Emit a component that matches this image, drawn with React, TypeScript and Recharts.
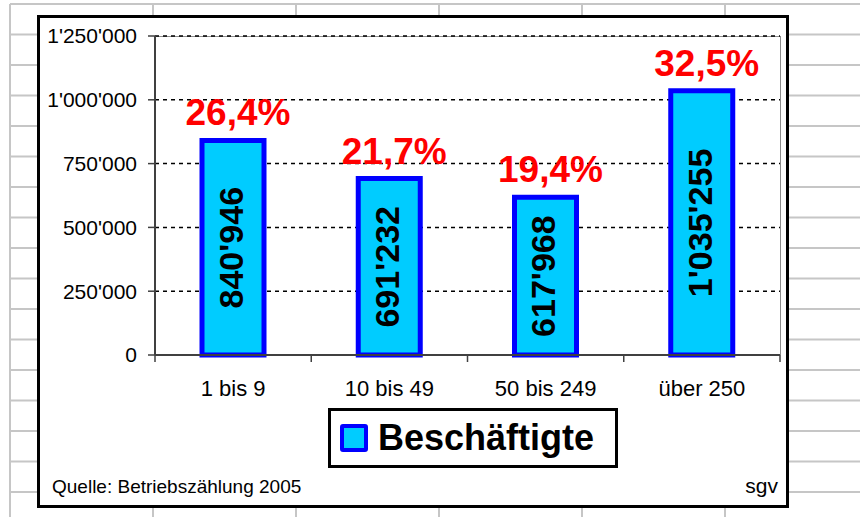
import React from 'react';
import { BarChart, Bar, XAxis, YAxis, CartesianGrid, LabelList } from 'recharts';

const categories = ['1 bis 9', '10 bis 49', '50 bis 249', 'über 250'];
const employees = [840946, 691232, 617968, 1035255];
const shares = [26.4, 21.7, 19.4, 32.5];
const yTicks = [0, 250000, 500000, 750000, 1000000, 1250000];

const FONT = '"Liberation Sans", Arial, sans-serif';
const PLOT_LEFT = 155;
const PLOT_TOP = 36;
const PLOT_RIGHT = 780;
const PLOT_BOTTOM = 355;
const BAND = (PLOT_RIGHT - PLOT_LEFT) / categories.length;

const data = categories.map((name, i) => ({ name, value: employees[i], share: shares[i] }));

const swiss = (v: number) => String(Math.round(v)).replace(/\B(?=(\d{3})+(?!\d))/g, "'");
const pct = (v: number) => v.toFixed(1).replace('.', ',') + '%';

// spreadsheet cells behind the chart
const SheetGrid = () => {
  const cols: number[] = [];
  for (let x = 10; x < 860; x += 143) cols.push(x);
  const rows: number[] = [];
  for (let y = 4; y < 517; y += 30.5) rows.push(y);
  return (
    <svg width={860} height={517} style={{ position: 'absolute', left: 0, top: 0 }}>
      {rows.map(y => <line key={'r' + y} x1={10} x2={860} y1={y} y2={y} stroke="#c6c6c6" strokeWidth={2} />)}
      {cols.map(x => <line key={'c' + x} x1={x} x2={x} y1={4} y2={517} stroke="#c6c6c6" strokeWidth={2} />)}
    </svg>
  );
};

const CategoryTick = (props: any) => {
  const { x, payload, index } = props;
  const left = x - BAND / 2;
  return (
    <g>
      <line x1={left} x2={left} y1={PLOT_BOTTOM} y2={PLOT_BOTTOM + 7} stroke="#404040" strokeWidth={1.5} />
      {index === categories.length - 1 && (
        <line x1={x + BAND / 2} x2={x + BAND / 2} y1={PLOT_BOTTOM} y2={PLOT_BOTTOM + 7} stroke="#404040" strokeWidth={1.5} />
      )}
      <text x={x} y={PLOT_BOTTOM + 41} textAnchor="middle" fill="#000" fontSize={22} fontFamily={FONT}>
        {payload.value}
      </text>
    </g>
  );
};

const ShareLabel = (props: any) => {
  const { x, y, width, value } = props;
  return (
    <text x={x + width / 2 + 5} y={y - 15} textAnchor="middle" fill="#FF0000" fontSize={37} fontWeight="bold" fontFamily={FONT}>
      {pct(value)}
    </text>
  );
};

const ValueLabel = (props: any) => {
  const { x, y, width, height, value } = props;
  const cx = x + width / 2 - 2;
  const cy = y + height / 2;
  return (
    <text x={cx} y={cy} transform={`rotate(-90 ${cx} ${cy})`} textAnchor="middle" dominantBaseline="central"
      fill="#000" fontSize={34} fontWeight="bold" fontFamily={FONT}>
      {swiss(value)}
    </text>
  );
};

export default function App() {
  return (
    <div style={{ position: 'absolute', left: 0, top: 0, width: 860, height: 517, background: '#fff', overflow: 'hidden', fontFamily: FONT }}>
      <SheetGrid />
      <div style={{ position: 'absolute', left: 37, top: 15, width: 752, height: 493, boxSizing: 'border-box', border: '3px solid #000', background: '#fff' }} />
      <div style={{ position: 'absolute', left: PLOT_LEFT, top: PLOT_TOP, width: PLOT_RIGHT - PLOT_LEFT + 1, height: PLOT_BOTTOM - PLOT_TOP, boxSizing: 'border-box', border: '1px solid #8c8c8c' }} />
      <div style={{ position: 'absolute', left: 0, top: 0 }}>
        <BarChart width={860} height={517} data={data} margin={{ top: PLOT_TOP, right: 860 - PLOT_RIGHT, bottom: 517 - PLOT_BOTTOM - 30, left: PLOT_LEFT - 100 }}>
          <CartesianGrid vertical={false} stroke="#000" strokeDasharray="4 4" strokeWidth={1.5} />
          <XAxis dataKey="name" height={30} interval={0} tickLine={false} tick={<CategoryTick />}
            axisLine={{ stroke: '#404040', strokeWidth: 2 }} />
          <YAxis width={100} domain={[0, 1250000]} ticks={yTicks} interval={0} tickFormatter={swiss}
            tick={{ fill: '#000', fontSize: 21, fontFamily: FONT }} tickSize={7} tickMargin={11}
            tickLine={{ stroke: '#404040', strokeWidth: 1.5 }} axisLine={{ stroke: '#404040', strokeWidth: 2 }} />
          <Bar dataKey="value" fill="#00CCFF" stroke="#0000FF" strokeWidth={5} barSize={62} isAnimationActive={false}>
            <LabelList dataKey="value" content={<ValueLabel />} />
            <LabelList dataKey="share" content={<ShareLabel />} />
          </Bar>
        </BarChart>
      </div>
      <div style={{ position: 'absolute', left: 328, top: 408, width: 290, height: 60, boxSizing: 'border-box', border: '3px solid #000', background: '#fff', display: 'flex', alignItems: 'center' }}>
        <div style={{ marginLeft: 9, width: 28, height: 28, boxSizing: 'border-box', border: '4px solid #0000FF', borderRadius: 3, background: '#00CCFF' }} />
        <span style={{ marginLeft: 10, fontSize: 36, fontWeight: 'bold', lineHeight: '36px', color: '#000' }}>Beschäftigte</span>
      </div>
      <div style={{ position: 'absolute', left: 52, top: 477, fontSize: 19, lineHeight: '19px', color: '#000', whiteSpace: 'nowrap' }}>
        Quelle: Betriebszählung 2005
      </div>
      <div style={{ position: 'absolute', left: 720, width: 58, top: 475, fontSize: 21, lineHeight: '21px', color: '#000', textAlign: 'right' }}>
        sgv
      </div>
    </div>
  );
}
